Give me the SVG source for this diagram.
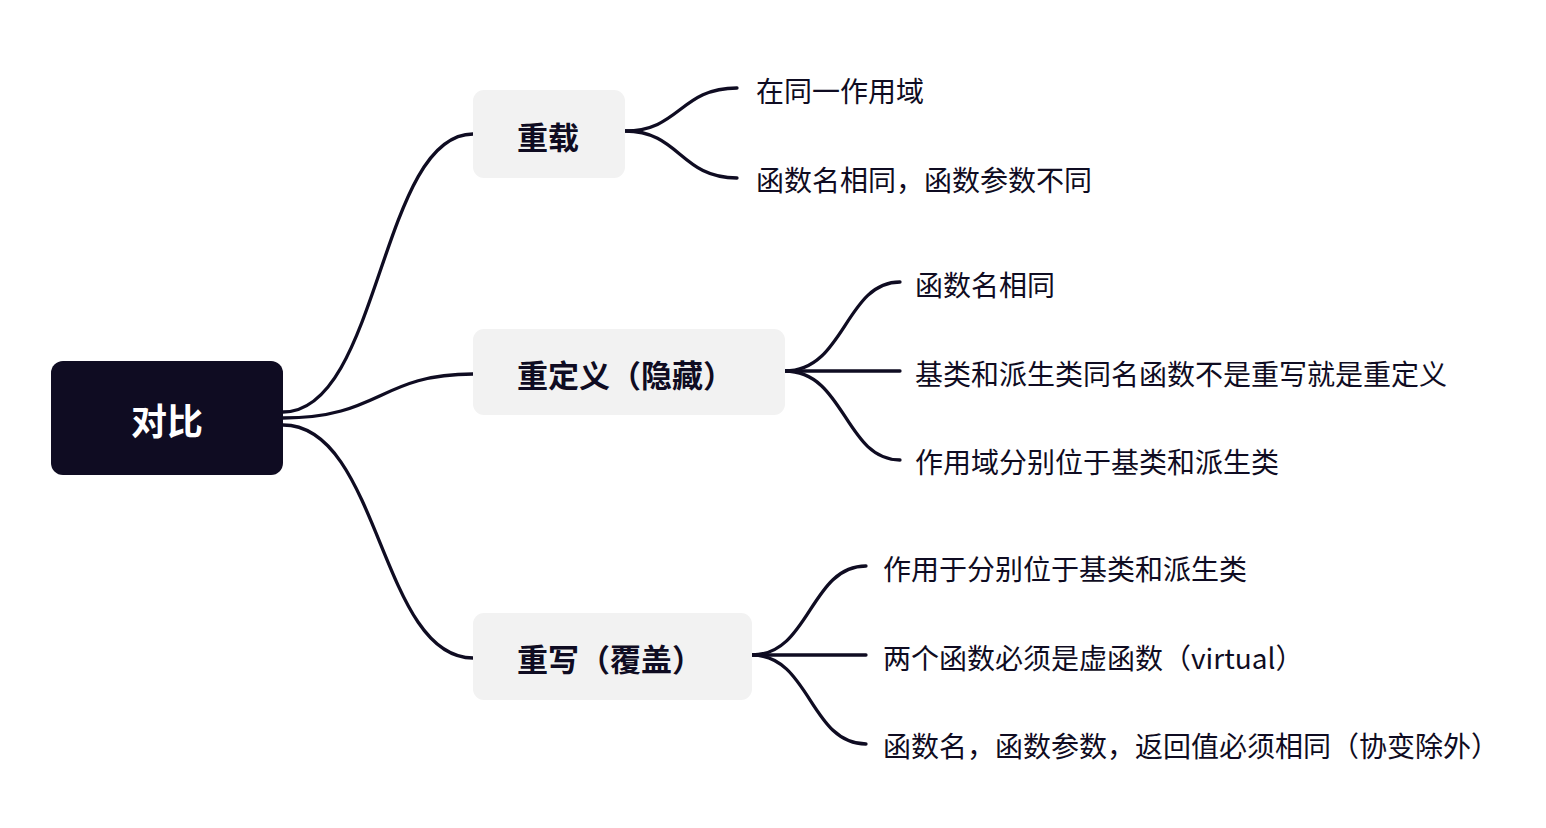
<svg xmlns="http://www.w3.org/2000/svg" width="1546" height="828" viewBox="0 0 1546 828">
<style>
.root{fill:#0f0c22}
.sub{fill:#f2f2f2}
.rt{font-family:"Noto Sans CJK SC","Liberation Sans",sans-serif;font-weight:bold;font-size:36px;fill:#ffffff}
.st{font-family:"Noto Sans CJK SC","Liberation Sans",sans-serif;font-weight:bold;font-size:31px;fill:#0f0c22}
.lt{font-family:"Noto Sans CJK SC","Liberation Sans",sans-serif;font-size:28px;fill:#0f0c22}
.c{fill:none;stroke:#0f0c22;stroke-width:3.3;stroke-linecap:round}
</style>
<rect width="1546" height="828" fill="#ffffff"/>
<g id="connectors">
<path class="c" d="M283,412 C380,412 380,134 473,134"/>
<path class="c" d="M283,418 C380,418 380,374 473,374"/>
<path class="c" d="M283,425 C380,425 380,658 473,658"/>
<path class="c" d="M625,131 C680,131 680,88 737,88"/>
<path class="c" d="M625,131 C680,131 680,178 737,178"/>
<path class="c" d="M785,371 C845,371 845,282 900,282"/>
<path class="c" d="M785,371 L900,371"/>
<path class="c" d="M785,371 C845,371 845,460 900,460"/>
<path class="c" d="M752,655 C810,655 810,566 866,566"/>
<path class="c" d="M752,655 L866,655"/>
<path class="c" d="M752,655 C810,655 810,744 866,744"/>
</g>
<g id="root">
<rect class="root" x="51" y="361" width="232" height="114" rx="12"/>
<text class="rt" x="167" y="435" text-anchor="middle">对比</text>
</g>
<g id="n1">
<rect class="sub" x="473" y="90" width="152" height="88" rx="11"/>
<text class="st" x="517" y="149">重载</text>
</g>
<g id="n2">
<rect class="sub" x="473" y="329" width="312" height="86" rx="11"/>
<text class="st" x="517" y="387">重定义（隐藏）</text>
</g>
<g id="n3">
<rect class="sub" x="473" y="613" width="279" height="87" rx="11"/>
<text class="st" x="517" y="671">重写（覆盖）</text>
</g>
<g id="l1"><text class="lt" x="756" y="102">在同一作用域</text></g>
<g id="l2"><text class="lt" x="756" y="191">函数名相同，函数参数不同</text></g>
<g id="l3"><text class="lt" x="915" y="296">函数名相同</text></g>
<g id="l4"><text class="lt" x="915" y="385">基类和派生类同名函数不是重写就是重定义</text></g>
<g id="l5"><text class="lt" x="915" y="473">作用域分别位于基类和派生类</text></g>
<g id="l6"><text class="lt" x="883" y="580">作用于分别位于基类和派生类</text></g>
<g id="l7"><text class="lt" x="883" y="669">两个函数必须是虚函数（virtual）</text></g>
<g id="l8"><text class="lt" x="883" y="757">函数名，函数参数，返回值必须相同（协变除外）</text></g>
</svg>
